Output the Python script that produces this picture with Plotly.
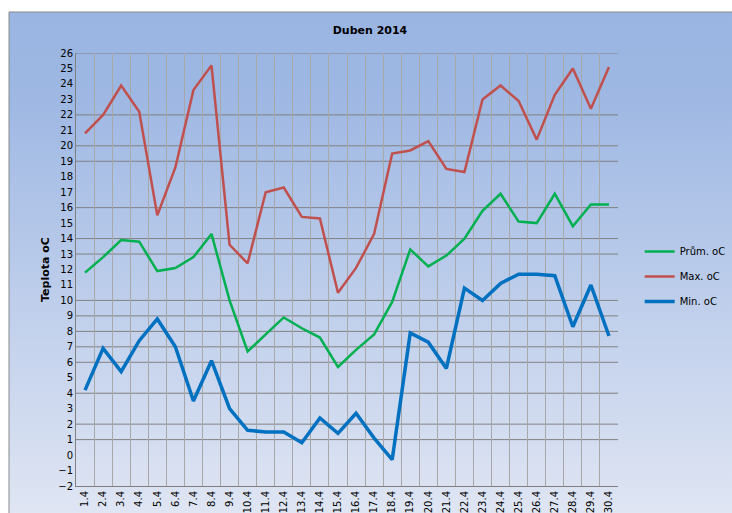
import base64
import plotly.graph_objects as go

# dny v dubnu 2014
days = [f"{d}.4" for d in range(1, 31)]

avg_temp = [11.8, 12.8, 13.9, 13.8, 11.9, 12.1, 12.8, 14.3, 10.0, 6.7,
            7.8, 8.9, 8.2, 7.6, 5.7, 6.8, 7.8, 9.9, 13.3, 12.2,
            12.9, 14.0, 15.8, 16.9, 15.1, 15.0, 16.9, 14.8, 16.2, 16.2]
max_temp = [20.8, 22.0, 23.9, 22.2, 15.5, 18.6, 23.6, 25.2, 13.6, 12.4,
            17.0, 17.3, 15.4, 15.3, 10.5, 12.1, 14.3, 19.5, 19.7, 20.3,
            18.5, 18.3, 23.0, 23.9, 22.9, 20.4, 23.3, 25.0, 22.4, 25.1]
min_temp = [4.2, 6.9, 5.4, 7.4, 8.8, 7.0, 3.5, 6.1, 3.0, 1.6,
            1.5, 1.5, 0.8, 2.4, 1.4, 2.7, 1.1, -0.3, 7.9, 7.3,
            5.6, 10.8, 10.0, 11.1, 11.7, 11.7, 11.6, 8.3, 11.0, 7.7]

# horizontal grid lines that are visible in the original
grid_vals = [26, 22, 20, 19, 16, 14, 13, 10, 9, 8, 7, 6, 4, 2, 1]

svg = ("<svg xmlns='http://www.w3.org/2000/svg' width='100' height='100' preserveAspectRatio='none'>"
       "<defs><linearGradient id='g' x1='0' y1='0' x2='0' y2='1'>"
       "<stop offset='0' stop-color='#9BB5E2'/><stop offset='0.15' stop-color='#9DB7E3'/>"
       "<stop offset='1' stop-color='#DFE5F3'/></linearGradient></defs>"
       "<rect width='100' height='100' fill='url(#g)'/></svg>")
bg_uri = "data:image/svg+xml;base64," + base64.b64encode(svg.encode()).decode()

fig = go.Figure()
fig.add_trace(go.Scatter(x=days, y=avg_temp, mode='lines', name='Prům. oC',
                         line=dict(color='#00B050', width=2.5), legendgroup='a'))
fig.add_trace(go.Scatter(x=days, y=max_temp, mode='lines', name='Max. oC',
                         line=dict(color='#C0504D', width=2.5), legendgroup='b'))
fig.add_trace(go.Scatter(x=days, y=min_temp, mode='lines', name='Min. oC',
                         line=dict(color='#0070C0', width=3.5), legendgroup='c'))

shapes = [dict(type='line', xref='paper', x0=0, x1=1, yref='y', y0=v, y1=v,
               line=dict(color='#808080', width=1), layer='below') for v in grid_vals]
shapes.append(dict(type='rect', xref='paper', yref='paper', x0=-0.1236, x1=1.4,
                   y0=-0.3, y1=1.0947, line=dict(color='#8A8A8A', width=1)))

fig.update_layout(
    width=732, height=513,
    margin=dict(l=76, r=114, t=53, b=27, autoexpand=False),
    paper_bgcolor='white',
    plot_bgcolor='white',
    font=dict(family='DejaVu Sans', size=10, color='black'),
    title=dict(text='<b>Duben 2014</b>', x=0.5424, xref='paper', y=0.9415,
               yanchor='middle', font=dict(size=11)),
    images=[dict(source=bg_uri, xref='paper', yref='paper', x=-0.1236, y=1.0947,
                 sizex=1.334, sizey=1.157, sizing='stretch', layer='below')],
    shapes=shapes,
    annotations=[dict(text='<b>Teplota oC</b>', xref='paper', yref='paper',
                      x=-0.072, y=0.5, textangle=-90, showarrow=False,
                      font=dict(size=11))],
    legend=dict(x=1.04, y=0.575, xanchor='left', yanchor='top',
                bgcolor='rgba(0,0,0,0)', tracegroupgap=6, font=dict(size=10)),
    showlegend=True,
)
fig.update_xaxes(type='category', tickson='boundaries', showgrid=True,
                 range=[-0.5, 29.5], automargin=False,
                 gridcolor='#A8A8A8', gridwidth=1, tickangle=-90,
                 showline=True, linecolor='#808080', ticks='', tickfont=dict(size=10))
fig.update_yaxes(range=[-2, 26], dtick=1, showgrid=False, zeroline=False,
                 automargin=False,
                 showline=True, linecolor='#808080', ticks='', tickfont=dict(size=10))

fig.write_html("out.html", config={'displayModeBar': False},
               post_script="document.body.style.margin='0';")
